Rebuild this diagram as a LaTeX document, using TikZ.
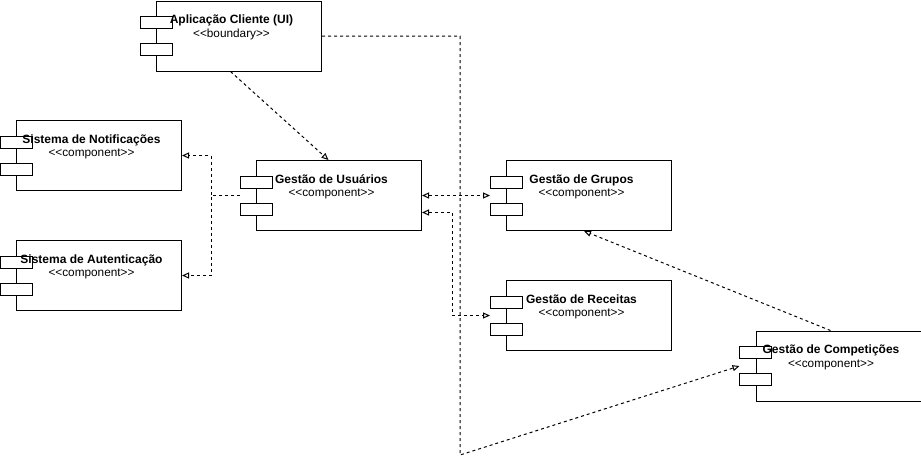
\documentclass[tikz,border=0pt]{standalone}
\usepackage{fontspec}
\setmainfont{Liberation Sans}[Ligatures=TeXOff]
\usetikzlibrary{arrows.meta,calc}
\begin{document}
\begin{tikzpicture}[x=1pt,y=-1pt,
 >={Triangle[open,length=7pt,width=6pt]},
 box/.style={draw, line width=1pt, minimum width=165pt, minimum height=70pt, inner sep=0pt, anchor=north west},
 jet/.style={draw, line width=1pt, fill=white},
 ttl/.style={font=\fontsize{12}{14}\selectfont\bfseries, anchor=base, inner sep=0pt},
 ster/.style={font=\fontsize{11.8}{13}\selectfont, anchor=base, inner sep=0pt},
 dep/.style={draw, line width=1pt, dash pattern=on 3pt off 3pt},
]
\useasboundingbox (0,0) rectangle (921,464);
\node[box] (app) at (156,0.5) {};
\node[box] (notif) at (16,120) {};
\node[box] (auth) at (16,240) {};
\node[box] (users) at (256,160) {};
\node[box] (groups) at (506,160) {};
\node[box] (recipes) at (506,280) {};
\node[box] (comp) at (755.5,330.5) {};
\foreach \n in {app,notif,auth,users,groups,recipes,comp}{
  \draw[jet] ([shift={(-16pt,-16pt)}]\n.north west) rectangle ++(32pt,-12pt);
  \draw[jet] ([shift={(-16pt,-43pt)}]\n.north west) rectangle ++(32pt,-12pt);
}
\node[ttl] (appT) at ([shift={(-7.5pt,-23pt)}]app.north) {Aplicação Cliente (UI)};
\node[ster] (appS) at ([shift={(-7.5pt,-36.5pt)}]app.north) {<<boundary>>};
\node[ttl] (notifT) at ([shift={(-7.5pt,-23pt)}]notif.north) {Sistema de Notificações};
\node[ster] (notifS) at ([shift={(-7.5pt,-36.5pt)}]notif.north) {<<component>>};
\node[ttl] (authT) at ([shift={(-7.5pt,-23pt)}]auth.north) {Sistema de Autenticação};
\node[ster] (authS) at ([shift={(-7.5pt,-36.5pt)}]auth.north) {<<component>>};
\node[ttl] (usersT) at ([shift={(-7.5pt,-23pt)}]users.north) {Gestão de Usuários};
\node[ster] (usersS) at ([shift={(-7.5pt,-36.5pt)}]users.north) {<<component>>};
\node[ttl] (groupsT) at ([shift={(-7.5pt,-23pt)}]groups.north) {Gestão de Grupos};
\node[ster] (groupsS) at ([shift={(-7.5pt,-36.5pt)}]groups.north) {<<component>>};
\node[ttl] (recipesT) at ([shift={(-7.5pt,-23pt)}]recipes.north) {Gestão de Receitas};
\node[ster] (recipesS) at ([shift={(-7.5pt,-36.5pt)}]recipes.north) {<<component>>};
\node[ttl] (compT) at ([shift={(-7.5pt,-23pt)}]comp.north) {Gestão de Competições};
\node[ster] (compS) at ([shift={(-7.5pt,-36.5pt)}]comp.north) {<<component>>};
% connectors
\draw[dep,->] ([xshift=-8.5pt]app.south) -- ([xshift=-10.5pt]users.north);
\draw[dep,->] ([xshift=-16pt]users.west) -- ++(-29pt,0) |- (notif.east);
\draw[dep,->] ([xshift=-16pt]users.west) -- ++(-29pt,0) |- (auth.east);
\draw[dep,<->] (users.east) -- ([xshift=-16pt]groups.west);
\draw[dep,<->] ([yshift=-17pt]users.east) -- ++(30pt,0) |- ([xshift=-16pt]recipes.west);
\coordinate (bend) at (460,455);
\draw[dep,->] (app.east) -| (bend) -- ([xshift=-16pt]comp.west);
\draw[dep,->] ([xshift=-8pt]comp.north) -- ([xshift=-5pt]groups.south);
\end{tikzpicture}
\end{document}
